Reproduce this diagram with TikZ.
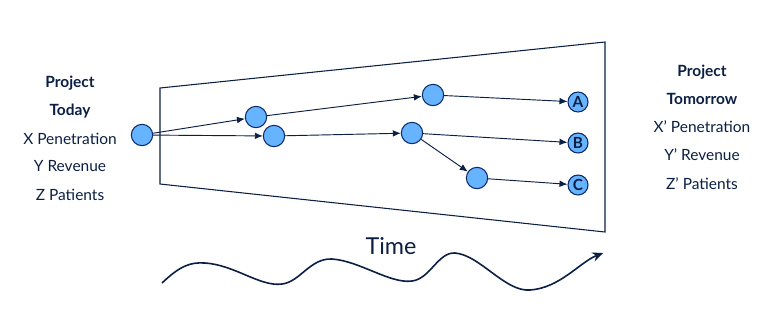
\documentclass[tikz,border=0pt]{standalone}
\usepackage{fontspec}
\setmainfont{Lato}
\usetikzlibrary{arrows.meta}
\definecolor{navy}{HTML}{0B1F44}
\definecolor{dotblue}{HTML}{66B3FF}
\definecolor{rimblue}{HTML}{0A2A6B}
\tikzset{
  dot/.style={circle,draw=rimblue,fill=dotblue,line width=0.8pt,minimum size=16pt,inner sep=0pt},
  leaf/.style={dot,minimum size=15pt,font=\bfseries\fontsize{11.5}{11.5}\selectfont,text=navy},
  link/.style={draw=navy,line width=0.7pt,-{Latex[length=6pt,width=5pt]}},
  info/.style={text=navy,font=\fontsize{11.6}{13}\selectfont},
  head/.style={info,font=\bfseries\fontsize{11.6}{13}\selectfont}
}
\begin{document}
\begin{tikzpicture}[x=0.75pt,y=-0.75pt]
\useasboundingbox (0,0) rectangle (766,326);
\draw[navy,line width=0.8pt] (160,88) -- (605,42) -- (605,232) -- (160,184) -- cycle;
\node[head] (pt1) at (70,83) {Project};
\node[head] (pt2) at (70,111) {Today};
\node[info] (pt3) at (70,139) {X Penetration};
\node[info] (pt4) at (70,166) {Y Revenue};
\node[info] (pt5) at (70,195) {Z Patients};
\node[head] (pm1) at (702,72) {Project};
\node[head] (pm2) at (702,99) {Tomorrow};
\node[info] (pm3) at (702,127) {X' Penetration};
\node[info] (pm4) at (702,155) {Y' Revenue};
\node[info] (pm5) at (702,184) {Z' Patients};
\node[dot] (s) at (142,135) {};
\node[dot] (d1) at (256,117) {};
\node[dot] (d2) at (274,136) {};
\node[dot] (d3) at (433,95) {};
\node[dot] (d4) at (412,133) {};
\node[dot] (d5) at (477,178) {};
\node[leaf] (a) at (578,102) {A};
\node[leaf] (b) at (578,143) {B};
\node[leaf] (c) at (578,185) {C};
\draw[link] (s) -- (d1);
\draw[link] (s) -- (d2);
\draw[link] (d1) -- (d3);
\draw[link] (d2) -- (d4);
\draw[link] (d3) -- (a);
\draw[link] (d4) -- (b);
\draw[link] (d4) -- (d5);
\draw[link] (d5) -- (c);
\node[text=navy,font=\fontsize{17.5}{17.5}\selectfont] (t) at (391,246) {Time};
\coordinate (w0) at (162,283);
\coordinate (w1) at (603,253);
\draw[navy,line width=1.2pt,-{Stealth[length=8pt,width=7pt]}] (w0)
  .. controls (180,266) and (190,262) .. (205,263)
  .. controls (235,265) and (260,287) .. (282,284)
  .. controls (300,282) and (310,258) .. (332,259)
  .. controls (360,261) and (390,284) .. (412,281)
  .. controls (430,279) and (438,252) .. (455,253)
  .. controls (480,255) and (505,292) .. (530,290)
  .. controls (560,288) and (580,262) .. (w1);
\end{tikzpicture}
\end{document}
